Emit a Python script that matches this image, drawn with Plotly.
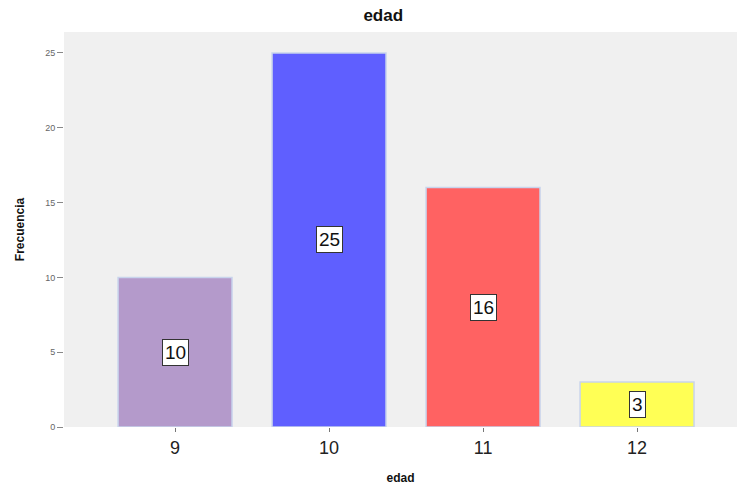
import plotly.graph_objects as go

# Frequency of ages
edades = ["9", "10", "11", "12"]
frecuencias = [10, 25, 16, 3]
colores = ["#B49ACB", "#5F5FFF", "#FF6262", "#FFFF55"]

xpos = list(range(len(edades)))

fig = go.Figure()
fig.add_trace(go.Bar(
    x=xpos,
    y=frecuencias,
    width=0.74,
    marker=dict(color=colores, line=dict(color="#C8D4EC", width=1.5)),
    hoverinfo="skip",
))

# Value labels in white boxes at half the bar height
for xi, v in zip(xpos, frecuencias):
    fig.add_annotation(
        x=xi, y=v / 2, text=str(v), showarrow=False,
        font=dict(family="Liberation Sans, Arial", size=19, color="#111"),
        bgcolor="white", bordercolor="#333", borderwidth=1, borderpad=2,
    )

fig.update_layout(
    width=737, height=487,
    margin=dict(l=64, r=0, t=32, b=60),
    paper_bgcolor="white",
    plot_bgcolor="#F0F0F0",
    showlegend=False,
    title=dict(text="<b>edad</b>", x=0.52, xanchor="center", y=0.969, yanchor="middle",
               font=dict(family="Liberation Sans, Arial", size=17, color="#111")),
    xaxis=dict(
        tickmode="array", tickvals=xpos, ticktext=edades,
        range=[-0.721, 3.649],
        showgrid=False, zeroline=False,
        ticks="outside", ticklen=4, tickcolor="#777",
        tickfont=dict(family="Liberation Sans, Arial", size=18, color="#222"),
        title=dict(text="<b>edad</b>", standoff=17,
                   font=dict(family="Liberation Sans, Arial", size=12, color="#111")),
    ),
    yaxis=dict(
        range=[0, 26.4],
        tickvals=[0, 5, 10, 15, 20, 25],
        showgrid=False, zeroline=False,
        ticks="outside", ticklen=6, tickcolor="#888",
        tickfont=dict(family="Liberation Sans, Arial", size=9, color="#666"),
        title=dict(text="<b>Frecuencia</b>", standoff=17,
                   font=dict(family="Liberation Sans, Arial", size=12, color="#111")),
    ),
)

fig.write_html("out.html")
